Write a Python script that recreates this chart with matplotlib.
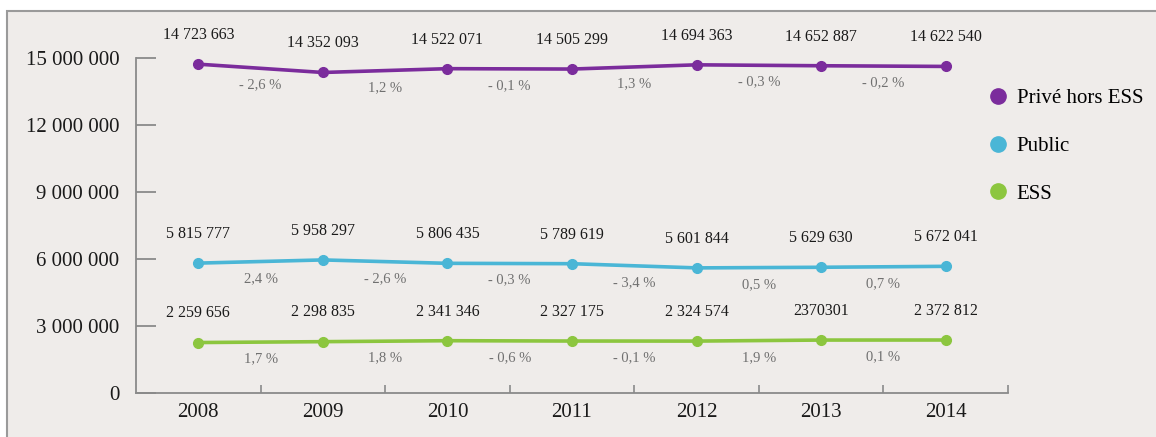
import matplotlib.pyplot as plt
from matplotlib.patches import Rectangle
from matplotlib.lines import Line2D
from matplotlib.ticker import FixedLocator

# data
years = ["2008", "2009", "2010", "2011", "2012", "2013", "2014"]
prive = [14723663, 14352093, 14522071, 14505299, 14694363, 14652887, 14622540]
public = [5815777, 5958297, 5806435, 5789619, 5601844, 5629630, 5672041]
ess = [2259656, 2298835, 2341346, 2327175, 2324574, 2370301, 2372812]
prive_pct = [-2.6, 1.2, -0.1, 1.3, -0.3, -0.2]
public_pct = [2.4, -2.6, -0.3, -3.4, 0.5, 0.7]
ess_pct = [1.7, 1.8, -0.6, -0.1, 1.9, 0.1]
series_names = ["Privé hors ESS", "Public", "ESS"]
y_ticks = [0, 3000000, 6000000, 9000000, 12000000, 15000000]
# the source prints the 2013 ESS value without spaces
ess_label_override = {5: "2370301"}

colors = ["#7b2c9c", "#4ab6d6", "#8cc63f"]
bg = "#efecea"

plt.rcParams['font.family'] = ['Liberation Serif', 'DejaVu Serif']


def fmt_num(v):
    return f"{v:,}".replace(",", " ")


def fmt_pct(p):
    s = f"{abs(p):.1f}".replace(".", ",") + " %"
    return "- " + s if p < 0 else s


fig = plt.figure(figsize=(11.56, 4.37), dpi=100)
W, H = 1156, 437

# grey panel with thin border behind the chart (runs off the right and bottom edges)
fig.patches.append(Rectangle((7 / W, -0.2), 1.2, 1.2 - 11 / H, transform=fig.transFigure,
                             facecolor=bg, edgecolor="#9a9a9a", lw=1.5, zorder=-10))

ax = fig.add_axes([136 / W, 1 - 393 / H, (1008 - 136) / W, (393 - 58) / H])
ax.set_facecolor("none")

x = list(range(len(years)))
all_series = [prive, public, ess]
all_pct = [prive_pct, public_pct, ess_pct]
for k, (vals, pcts, c) in enumerate(zip(all_series, all_pct, colors)):
    ax.plot(x, vals, color=c, lw=2.6, marker="o", ms=7, mfc=c, mec=c, zorder=3,
            solid_capstyle="round")
    for i, v in enumerate(vals):
        lab = fmt_num(v)
        if k == 2 and i in ess_label_override:
            lab = ess_label_override[i]
        ax.annotate(lab, (i, v), xytext=(0, 21), textcoords="offset points",
                    ha="center", va="center", fontsize=11.5, color="#1a1a1a")
    for i, p in enumerate(pcts):
        ym = (vals[i] + vals[i + 1]) / 2
        ax.annotate(fmt_pct(p), (i + 0.5, ym), xytext=(0, -12), textcoords="offset points",
                    ha="center", va="center", fontsize=10.5, color="#707070")

ax.set_xlim(-0.5, len(years) - 0.5)
ax.set_ylim(0, 15000000)

for s in ["top", "right"]:
    ax.spines[s].set_visible(False)
for s in ["left", "bottom"]:
    ax.spines[s].set_color("#8a8a8a")
    ax.spines[s].set_linewidth(1.3)

ax.set_yticks(y_ticks)
ax.set_yticklabels([fmt_num(v) for v in y_ticks])
ax.tick_params(axis="y", direction="in", length=14.5, width=1.3, color="#8a8a8a",
               pad=12, labelsize=15, labelcolor="#1a1a1a")

ax.set_xticks(x)
ax.set_xticklabels(years)
ax.tick_params(axis="x", which="major", length=0, pad=7, labelsize=15, labelcolor="#1a1a1a")
ax.xaxis.set_minor_locator(FixedLocator([i + 0.5 for i in x]))
ax.tick_params(axis="x", which="minor", direction="in", length=6, width=1.2, color="#8a8a8a")

handles = [Line2D([], [], ls="none", marker="o", ms=11, color=c) for c in colors]
fig.legend(handles, series_names, loc="upper left", bbox_to_anchor=(977 / W, 1 - 80 / H),
           frameon=False, fontsize=15, handletextpad=0.3, labelspacing=1.36,
           handlelength=1.2, borderaxespad=0)

fig.savefig("out.png", dpi=100, facecolor="white")
